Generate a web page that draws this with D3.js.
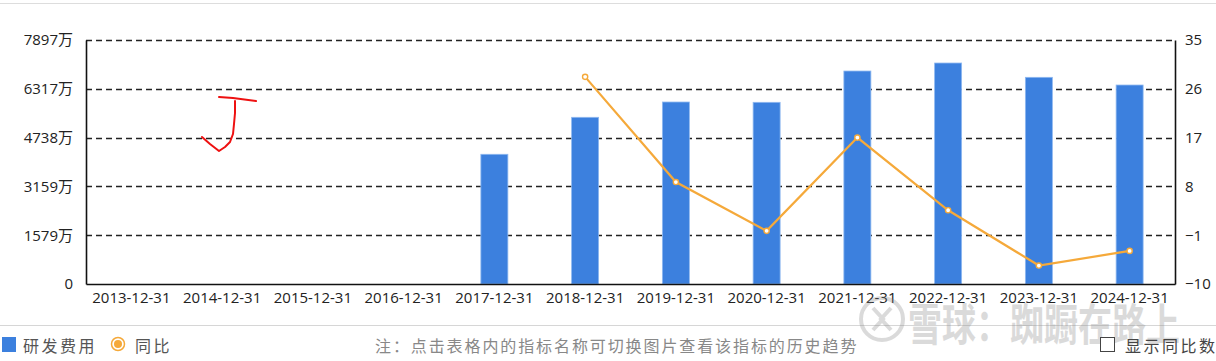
<!DOCTYPE html>
<html><head><meta charset="utf-8">
<script src="https://cdn.jsdelivr.net/npm/d3@7"></script>
<style>
html,body{margin:0;padding:0;background:#fff;overflow:hidden;}
svg{display:block;font-family:"Open Sans","Noto Sans CJK SC",sans-serif;}
</style></head>
<body>
<svg id="c" width="1216" height="361"></svg>
<script>
const categories = ["2013-12-31","2014-12-31","2015-12-31","2016-12-31","2017-12-31","2018-12-31","2019-12-31","2020-12-31","2021-12-31","2022-12-31","2023-12-31","2024-12-31"];
const rdExpense = [null,null,null,null,4198,5395,5890,5880,6893,7152,6689,6440]; // 万
const yoy = [null,null,null,null,null,28.2,8.8,-0.2,17.0,3.6,-6.6,-3.9]; // %
const leftTicks = [0,1579,3159,4738,6317,7897];
const rightTicks = [-10,-1,8,17,26,35];

const svg = d3.select("#c");
const m = {l:86, r:1175, t:40, b:284};

const x = d3.scaleBand().domain(categories).range([m.l, m.r]);
const yL = d3.scaleLinear().domain([0,7897]).range([m.b, m.t]);
const yR = d3.scaleLinear().domain([-10,35]).range([m.b, m.t]);

// top border
svg.append("line").attr("x1",0).attr("x2",1216).attr("y1",3.5).attr("y2",3.5).attr("stroke","#ddd");
// separator
svg.append("line").attr("x1",0).attr("x2",1216).attr("y1",325.5).attr("y2",325.5).attr("stroke","#d6d6d6");

// grid
svg.append("g").selectAll("line").data(leftTicks.slice(1)).join("line")
  .attr("x1",m.l).attr("x2",m.r)
  .attr("y1",d=>Math.round(yL(d))+0.5).attr("y2",d=>Math.round(yL(d))+0.5)
  .attr("stroke","#222").attr("stroke-width",1.6).attr("stroke-dasharray","6,4");

// bars
const bw = 27;
svg.append("g").selectAll("rect").data(categories.map((c,i)=>({c,v:rdExpense[i]})).filter(d=>d.v!=null)).join("rect")
  .attr("x",d=>x(d.c)+x.bandwidth()/2-bw/2).attr("width",bw)
  .attr("y",d=>yL(d.v)).attr("height",d=>yL(0)-yL(d.v))
  .attr("fill","#3c80de").attr("stroke","#8fb8f0").attr("stroke-width",0.8);

// axes
const axL = svg.append("g").attr("transform",`translate(${m.l},0)`)
  .call(d3.axisLeft(yL).tickValues(leftTicks).tickSize(0).tickPadding(13).tickFormat(d=>d===0?"0":d+"万"));
const axR = svg.append("g").attr("transform",`translate(${m.r},0)`)
  .call(d3.axisRight(yR).tickValues(rightTicks).tickSize(0).tickPadding(10));
const axB = svg.append("g").attr("transform",`translate(0,${m.b})`)
  .call(d3.axisBottom(x).tickSize(0).tickPadding(8));
[axL,axR,axB].forEach(a=>{
  a.select(".domain").attr("stroke","#111").attr("stroke-width",1.6);
  a.selectAll("text").attr("font-size",15).attr("fill","#222").attr("font-family","'Open Sans','Noto Sans CJK SC',sans-serif");
});

// line
const pts = categories.map((c,i)=>({c,v:yoy[i]})).filter(d=>d.v!=null);
svg.append("path").datum(pts)
  .attr("d",d3.line().x(d=>x(d.c)+x.bandwidth()/2).y(d=>yR(d.v)))
  .attr("fill","none").attr("stroke","#f5a93a").attr("stroke-width",2.2);
svg.append("g").selectAll("circle").data(pts).join("circle")
  .attr("cx",d=>x(d.c)+x.bandwidth()/2).attr("cy",d=>yR(d.v)).attr("r",2.6)
  .attr("fill","#fff").attr("stroke","#f5a93a").attr("stroke-width",1.4);

// red hand annotation
svg.append("path").attr("d","M219,97 L233,98 L256,101 M235,101 L235,113 L234,124 L233,134 L230,142 L225,147 L219,151 L210,144 L202,137")
  .attr("fill","none").attr("stroke","#ee1111").attr("stroke-width",2).attr("stroke-linecap","round").attr("stroke-linejoin","round");

// watermark
const wm = svg.append("g").attr("opacity",0.3);
wm.append("circle").attr("cx",882).attr("cy",319).attr("r",21).attr("fill","none").attr("stroke","#888").attr("stroke-width",4);
wm.append("path").attr("d","M873,308 L883,319 L873,330 M891,308 L881,319 L891,330").attr("fill","none").attr("stroke","#888").attr("stroke-width",4);
wm.append("text").attr("x",908).attr("y",341).attr("font-size",44).attr("font-weight","bold").attr("fill","#888")
  .attr("font-family","'Noto Sans CJK SC',sans-serif").attr("textLength",272).attr("lengthAdjust","spacingAndGlyphs").text("雪球：踟蹰在路上");

// legend
const lg = svg.append("g").attr("font-family","'Noto Sans CJK SC',sans-serif").attr("font-size",16);
lg.append("rect").attr("x",2).attr("y",337).attr("width",14).attr("height",15).attr("fill","#3c80de");
lg.append("text").attr("x",23).attr("y",352).attr("fill","#555").attr("letter-spacing",2.5).text("研发费用");
lg.append("circle").attr("cx",118).attr("cy",344).attr("r",6.5).attr("fill","#fff").attr("stroke","#f5a93a").attr("stroke-width",1.5);
lg.append("circle").attr("cx",118).attr("cy",344).attr("r",4).attr("fill","#f5a93a");
lg.append("text").attr("x",135).attr("y",352).attr("fill","#555").attr("letter-spacing",2.5).text("同比");
lg.append("text").attr("x",375).attr("y",352).attr("fill","#888").attr("letter-spacing",1.9)
  .text("注：点击表格内的指标名称可切换图片查看该指标的历史趋势");
lg.append("rect").attr("x",1100.5).attr("y",337.5).attr("width",14).attr("height",14).attr("fill","#fff").attr("stroke","#444");
lg.append("text").attr("x",1125).attr("y",352).attr("fill","#444").attr("letter-spacing",2.5).text("显示同比数据");
</script>
</body></html>
